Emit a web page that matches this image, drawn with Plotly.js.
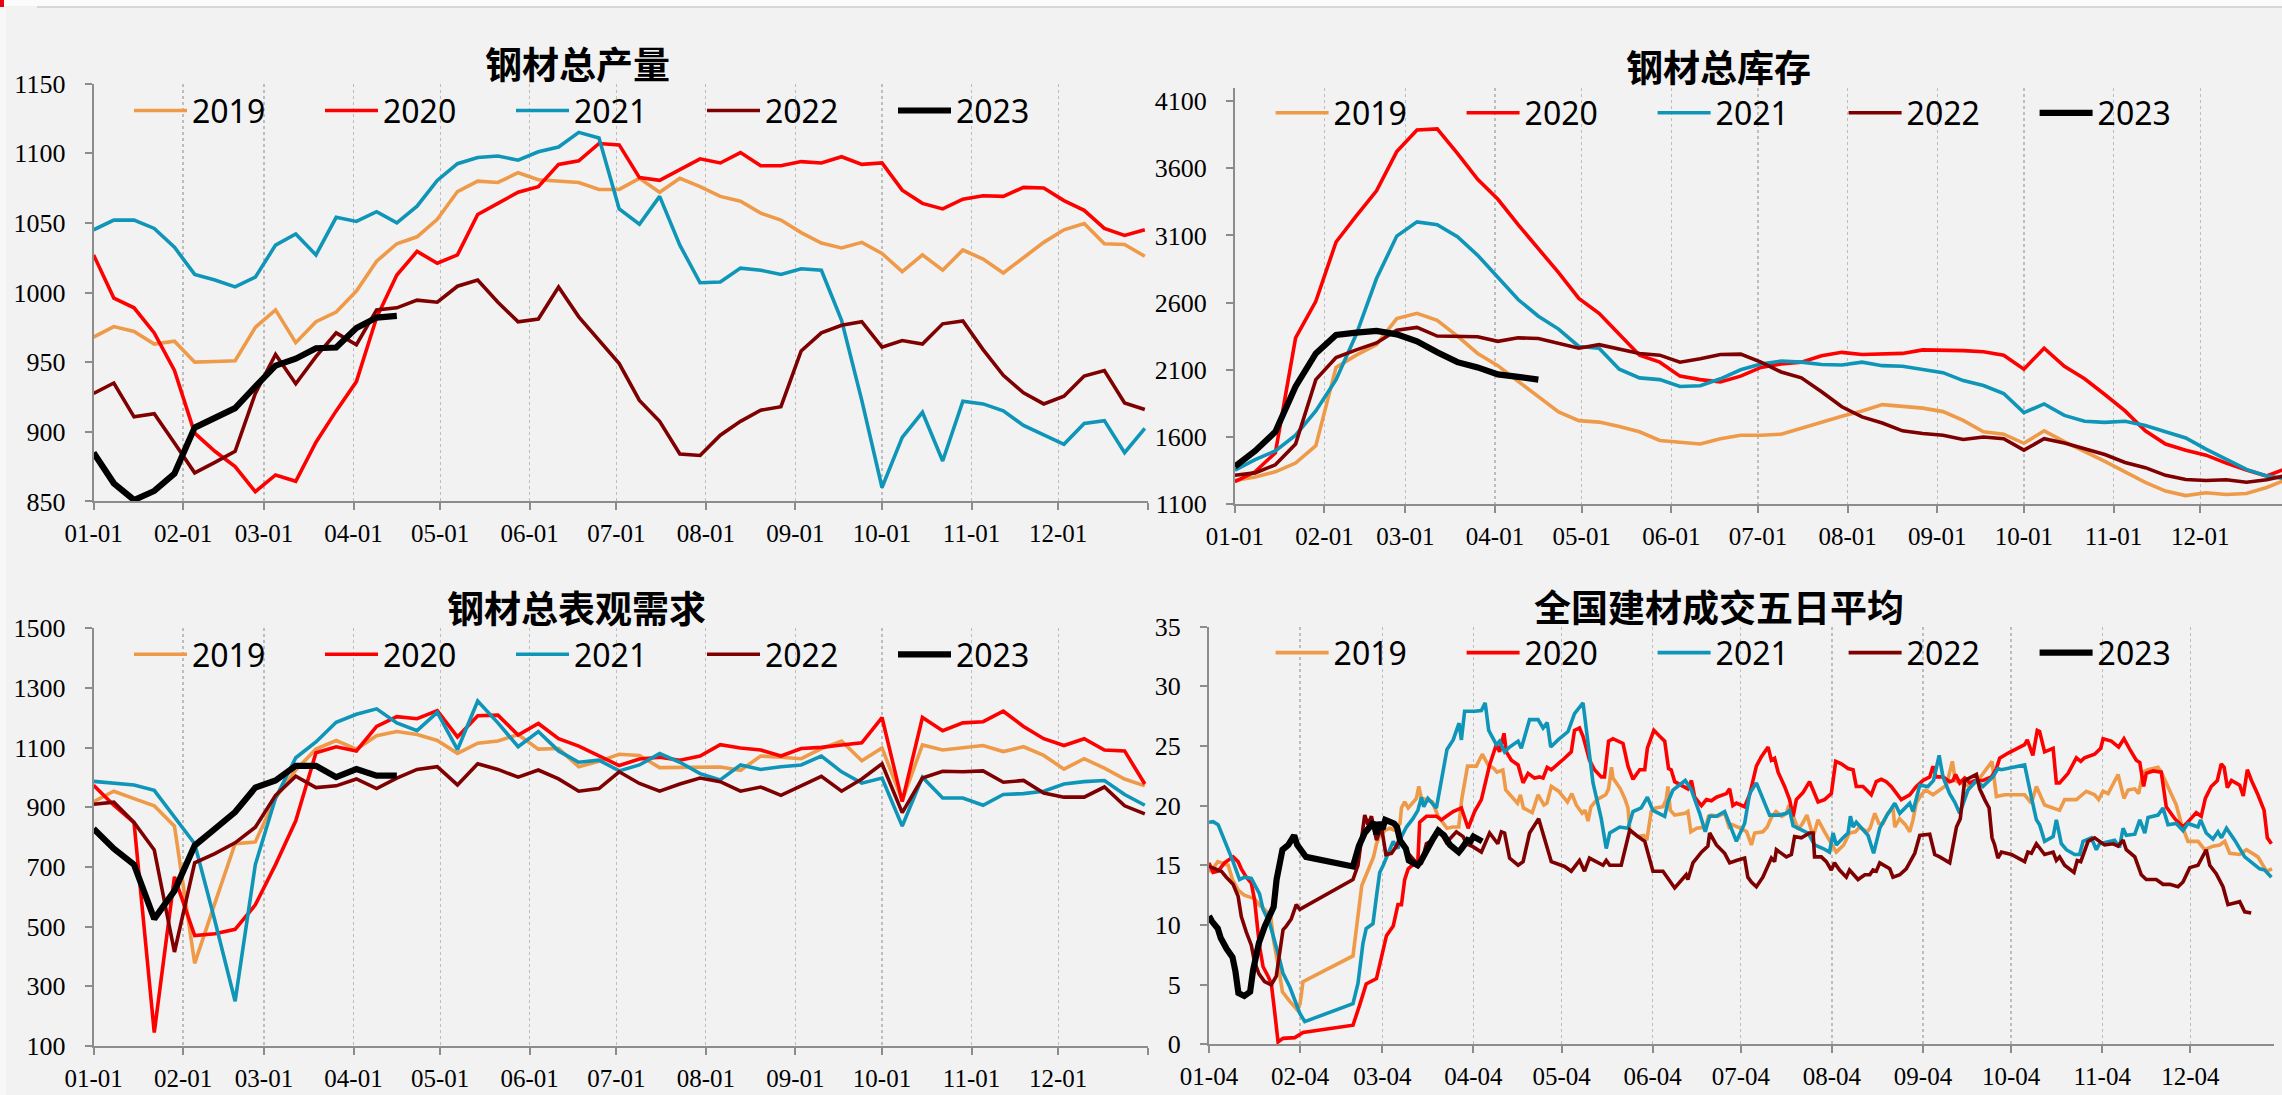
<!DOCTYPE html>
<html><head><meta charset="utf-8">
<script src="https://cdn.plot.ly/plotly-3.0.1.min.js"></script>
<style>html,body{margin:0;padding:0;background:#f2f2f2;}#chart{width:2282px;height:1095px;}</style>
</head><body><div id="chart"></div>
<script>
// ---------- DATA ----------
const years = ['2019','2020','2021','2022','2023'];
const monthStartDays = [0,31,59,90,120,151,181,212,243,273,304,334,365];
const monthLabels01 = ['01-01','02-01','03-01','04-01','05-01','06-01','07-01','08-01','09-01','10-01','11-01','12-01',''];
const monthStartDays04 = [3,34,62,93,123,154,184,215,246,276,307,337];
const monthLabels04 = ['01-04','02-04','03-04','04-04','05-04','06-04','07-04','08-04','09-04','10-04','11-04','12-04'];

// 钢材总产量 (weekly)
const prod2019 = [968,975.5,972,963,965,950,950.5,951,975,987.5,964,979,986,1001,1022.5,1035,1040,1052.5,1072.5,1080,1079,1086,1081,1080,1079,1074,1074,1082,1072,1082,1076,1069,1065.5,1057,1052,1043,1035.5,1032,1036,1028,1015,1027,1016,1030.5,1024,1014,1025,1036,1045,1049.5,1035,1034.5,1026];
const prod2020 = [1027,996,989,971,944,899,886,875,857,869,864.5,892.5,915,936,982,1012.5,1029.5,1021,1027,1056,1064,1072,1076,1092,1094.5,1107,1106,1082.5,1080.5,1088,1096,1093,1100.5,1091,1091,1094,1093,1097.5,1092,1093,1073.5,1064,1060,1067,1069.5,1069,1075.5,1075,1066,1059,1046,1041,1045];
const prod2021 = [1045,1052,1052,1046,1032.5,1013,1009,1004,1011,1034,1042,1027,1054,1051,1058,1050,1062,1080.5,1092.5,1097,1098,1095,1101,1104.5,1115,1111,1060,1049,1069,1034,1007,1007.5,1017.5,1016,1013,1017,1016,980,922.5,860,896,914,879,922,920,915,904.5,897.5,891,906,908,885,902.5];
const prod2022 = [927.5,935,910.75,913,892,870.5,878,886,927.5,955.5,934.5,954,971,962.5,987.5,989,994.5,993,1004.5,1009,993,979,981,1004,982.5,966,949,922.5,907.5,884,883,897.5,907.5,915.5,918,958,971,976.5,979,960.75,965.5,963,977.5,979.5,959,940.5,928,920,925.5,940,944,920.75,916];
const prod2023 = [885,863,851,857.5,870,903,910,917,932.5,947.5,952.5,960,960.5,974.5,982,983.25];

// 钢材总库存 (weekly)
const inv2019 = [1276,1302,1341,1406,1535,2118,2209,2287,2481,2520,2468,2351,2222,2131,2014,1898,1787,1722,1711,1678,1639,1574,1561,1548,1587,1613,1613,1621,1665,1711,1755,1794,1841,1828,1815,1789,1724,1639,1621,1553,1646,1566,1496,1419,1341,1263,1198,1164,1185,1172,1180,1224,1284];
const inv2020 = [1268,1341,1483,2338,2610,3051,3245,3432,3724,3885,3893,3711,3517,3369,3180,2999,2823,2631,2520,2364,2209,2157,2053,2027,2009,2053,2118,2144,2157,2204,2230,2214,2217,2222,2248,2248,2243,2235,2209,2105,2261,2126,2033,1916,1794,1646,1548,1502,1465,1406,1354,1310,1367];
const inv2021 = [1354,1432,1496,1613,1794,2027,2364,2779,3095,3201,3180,3090,2952,2792,2623,2499,2403,2274,2261,2105,2040,2027,1976,1981,2033,2100,2144,2165,2157,2139,2136,2157,2131,2126,2105,2079,2020,1983,1924,1781,1846,1761,1717,1709,1717,1686,1639,1593,1510,1432,1359,1310,1289];
const inv2022 = [1315,1333,1393,1548,2027,2191,2248,2300,2395,2416,2351,2346,2346,2312,2338,2333,2300,2261,2287,2253,2222,2209,2157,2183,2214,2217,2157,2084,2040,1937,1825,1750,1704,1646,1626,1613,1582,1600,1587,1502,1587,1556,1510,1470,1411,1372,1315,1284,1276,1282,1263,1282,1315];
const inv2023 = [1380,1496,1639,1976,2222,2359,2377,2390,2364,2312,2230,2157,2118,2066,2048,2027];

// 钢材总表观需求 (weekly)
const dem2019 = [919,954,929,905,837,377,579,778,784,931,1025,1095,1124,1095,1140,1154,1144,1124,1081,1115,1122,1144,1095,1097,1036,1054,1078,1074,1033,1034,1034,1035,1024,1072,1068,1063,1097,1122,1056,1099,923,1109,1092,1101,1107,1087,1103,1074,1028,1063,1031,995,972];
const dem2020 = [974,907,849,145,667,470,476,491,573,708,855,1083,1103,1089,1171,1204,1197,1224,1136,1207,1209,1142,1181,1130,1105,1072,1040,1062,1068,1058,1072,1110,1099,1092,1072,1097,1101,1109,1116,1201,919,1201,1157,1183,1187,1222,1171,1130,1107,1130,1092,1089,978];
const dem2021 = [987,982,975,957,866,778,520,250,708,931,1066,1119,1185,1212,1230,1183,1157,1218,1093,1256,1183,1103,1154,1089,1051,1058,1022,1042,1080,1051,1013,992,1042,1027,1036,1042,1072,1019,981,998,837,1001,931,931,907,943,946,954,978,986,990,943,907];
const dem2022 = [910,917,849,757,415,714,745,781,833,940,1004,966,972,995,963,998,1027,1036,975,1046,1027,1001,1025,995,954,963,1019,980,954,978,998,986,954,968,940,972,1004,954,995,1046,882,998,1021,1019,1022,984,990,948,934,934,968,905,878];
const dem2023 = [828,761,708,526,620,772,828,884,966,990,1039,1039,1001,1028,1006,1006];

// 全国建材成交五日平均 (daily, [day-of-year, value])
const sale2019 = [[3,14.5],[4,14.6],[6,15.3],[7,15.2],[9.5,15.0],[11,13.8],[13,12.9],[15,12.5],[17,12.3],[18.5,12.2],[20,11.7],[22,11.3],[24,10.7],[25,8.7],[27,5.95],[28,4.4],[30.5,3.6],[33,2.9],[34,3.4],[35,5.25],[52,7.4],[53,9.4],[54,11.5],[55,13.3],[57,14.5],[59,15.7],[60,16.8],[61,17.4],[63,17.95],[64.5,18.1],[66,17.95],[68,18.5],[68.5,19.8],[69.6,20.3],[70.8,19.8],[72.4,20.2],[73.6,20.6],[74.4,21.6],[75.3,20.6],[77,20.5],[79,20.3],[81,19.1],[84,18.1],[86,18.2],[88,18.2],[89,20.5],[90,22.1],[91,23.3],[94,23.3],[96,24.3],[98,23.4],[100,23.1],[101,22.8],[103,22.98],[104,21.3],[106,20.8],[108,20.2],[109,20.9],[110,19.8],[113,19.4],[115,20.9],[117,20.05],[118,20.2],[119.5,21.6],[122,21.2],[123.5,20.75],[125,20.3],[126.5,21.0],[128,20.05],[130,19.35],[131,19.6],[132,18.7],[133,19.9],[135,20.5],[138,20.9],[139,21.4],[140,23.2],[140.5,22.3],[143,21.4],[144.5,20.6],[145.6,19.8],[146.2,17.95],[149,17.4],[151,17.5],[152,17.1],[153.5,19.5],[155,19.8],[157.5,19.9],[158.6,20.5],[159.2,21.6],[160,19.6],[161.5,19.2],[165,19.35],[166,19.5],[167,17.8],[169,18.1],[172,18.2],[173,19.1],[174,19.2],[176,19.1],[178.5,19.35],[180,18.2],[181,18.4],[184,18.1],[186,17.8],[187.6,16.7],[188.7,17.7],[191.5,17.8],[193,18.2],[194.4,19.0],[196,19.5],[198,19.1],[199.5,19.35],[200.4,20.05],[202,19.0],[203.5,18.0],[205,18.5],[206.5,19.2],[208.6,17.4],[210.3,18.8],[212.5,17.8],[215,16.8],[216.5,16.1],[219,16.7],[221,17.7],[223,17.8],[224.4,18.2],[227,17.8],[228,18.1],[229.6,19.35],[231,18.5],[232.4,18.5],[234,19.35],[235.8,19.8],[236.4,18.2],[238,18.9],[240,18.4],[241.5,17.8],[242.6,18.8],[243.7,20.2],[245.4,20.9],[247,21.3],[249.4,20.9],[251.7,21.3],[254,21.7],[256,23.7],[257,22.1],[258.5,21.9],[262,21.6],[264.7,22.1],[267.6,23.0],[269.5,23.7],[271,20.75],[273.8,20.9],[280.6,20.9],[282.9,20.2],[284.6,21.6],[287.4,20.05],[292.5,19.6],[294.2,20.5],[298.2,20.5],[301.6,21.2],[304.4,20.9],[305.8,20.5],[307.3,21.2],[309,21.0],[312.4,22.6],[314.4,20.6],[315.8,21.3],[318.1,21.4],[319.4,21.0],[320.9,22.8],[322.6,23.0],[326,23.2],[327.1,22.8],[329.4,21.6],[332.2,20.05],[333.9,18.5],[336.2,17.0],[339.6,17.0],[341.9,16.3],[344.7,16.6],[347,16.7],[348.7,17.0],[350.4,16.0],[353.8,15.9],[356.1,16.3],[360,15.7],[361.7,15.0],[362.9,14.5],[364.8,14.7]];
const sale2020 = [[3,15.2],[4.4,14.4],[6.1,14.5],[8.3,15.2],[11.2,15.7],[12.9,15.3],[14,14.7],[15.7,14.0],[17.4,13.5],[18.5,12.1],[20.2,8.2],[21.4,6.5],[23.1,5.7],[24.2,5.1],[25.4,2.6],[26.5,0.2],[28.2,0.5],[32.2,0.56],[35,1.0],[52,1.6],[54.3,3.3],[56.5,5.05],[60,5.5],[61.7,7.3],[63.4,9.1],[65.7,9.9],[67.3,11.7],[68.5,11.7],[69.6,13.8],[70.8,14.7],[72.4,15.0],[74.1,15.4],[74.7,18.6],[77,19.1],[80.4,19.1],[82.1,18.8],[83.8,19.1],[86.1,19.5],[88.9,19.8],[91.2,18.1],[93.4,19.5],[95.7,20.5],[98.5,23.4],[100.8,25.1],[101.9,24.5],[103.4,26.05],[104.2,24.5],[105.9,23.8],[108.2,23.4],[109.9,21.9],[111.6,22.7],[113.8,22.3],[115.5,22.4],[116.7,22.3],[118.1,23.2],[119.5,23.0],[124,23.96],[126.3,24.5],[127.4,26.3],[129.1,26.5],[130.3,25.8],[132.5,23.8],[134.2,23.0],[136.5,22.4],[137.6,22.4],[139,25.4],[140.5,25.6],[143.9,25.2],[145.6,23.3],[147.3,22.2],[149.6,23.0],[151.3,23.0],[152.2,24.8],[154.4,26.3],[156.4,25.8],[158.1,25.4],[159.4,23.1],[160.3,23.0],[161.5,22.0],[163.7,21.7],[166,21.4],[167.2,22.1],[168.3,20.7],[170.6,20.0],[172.3,20.5],[174,20.4],[175.7,20.7],[179.1,21.0],[180.2,21.4],[181.3,20.0],[182.5,20.2],[185.3,19.9],[187,20.9],[189.3,23.3],[191,24.1],[193.3,24.9],[194.4,23.8],[195.5,23.96],[196.7,22.8],[198.9,21.6],[200.6,20.5],[201.8,19.1],[202.9,20.5],[205.2,21.1],[207.4,22.0],[208.6,21.3],[210.3,20.3],[212.5,20.5],[214.8,21.0],[216.3,23.7],[218.2,23.5],[220.5,23.1],[222.2,23.0],[223.3,21.6],[225.6,21.6],[228.4,20.9],[230.1,22.0],[231.8,22.2],[233.5,22.0],[235.2,21.6],[238.6,20.5],[241.5,20.9],[243.7,21.6],[246,22.1],[248.3,22.4],[249.4,23.3],[250.5,22.4],[252.8,22.4],[255.1,22.0],[256.2,22.1],[257.1,22.6],[258.5,21.9],[260.2,22.3],[261.9,21.9],[263.6,22.1],[266.4,22.1],[269.3,22.4],[271,23.1],[272.1,23.96],[275,24.4],[278.3,24.8],[280.6,25.1],[281.5,25.5],[283.4,24.2],[284.9,26.3],[285.7,26.2],[287.4,24.5],[290.3,24.8],[291.4,21.9],[292.5,21.9],[295.4,22.7],[298.2,24.0],[299.7,23.7],[301,24.0],[304.4,24.3],[306.5,24.8],[307.3,25.6],[310.1,25.4],[312.6,24.9],[314.4,25.6],[316.4,24.7],[318.6,23.8],[319.8,23.6],[321.1,21.6],[322,22.7],[324.3,22.9],[327.1,22.8],[328.8,19.9],[331.7,18.9],[334.5,18.2],[336.8,18.8],[339,19.4],[340.7,19.1],[342.1,20.6],[344.1,21.6],[346.2,22.1],[347.5,23.5],[348.5,23.2],[349.6,21.5],[351,22.1],[353.8,21.7],[355,20.8],[356.4,23.0],[357.8,22.1],[360,20.9],[362.1,19.6],[363.2,17.3],[364.6,16.8]];
const sale2021 = [[3,18.6],[4.4,18.65],[6.1,18.4],[8.9,16.8],[11.2,15.3],[13.4,13.8],[15.1,14.0],[17.4,13.9],[20.2,12.6],[21.4,11.3],[23.7,10.1],[26.5,7.6],[28.2,5.95],[30.5,4.8],[32.2,3.7],[33.9,2.6],[35.6,1.9],[52,3.4],[53.7,5.1],[55.4,8.46],[56.5,9.7],[58.8,10.1],[60,12.4],[61.1,14.4],[62.3,15.0],[64,16.0],[65.7,17.0],[67.3,16.4],[68.5,17.4],[70.2,18.2],[72.4,18.9],[74.1,19.6],[75.3,20.7],[76.1,19.9],[77.5,20.6],[80.4,19.8],[81.5,21.3],[82.6,22.8],[84,24.7],[86.1,25.5],[88.1,26.9],[88.9,25.5],[90,27.9],[93.4,27.9],[95.7,27.95],[97,28.6],[98.2,26.3],[100.8,25.1],[101.9,25.4],[103.6,24.5],[105.3,24.9],[108.2,25.4],[109.3,24.8],[112.1,27.2],[115,27.2],[116.7,26.5],[118.1,26.95],[119.3,24.9],[121.8,25.5],[125.2,26.2],[127.4,27.7],[130.3,28.6],[132,25.4],[133.7,21.9],[136.5,18.9],[138.2,16.4],[139.4,17.7],[142.8,18.2],[145.6,18.1],[147.3,19.5],[150.1,19.8],[152.2,20.7],[154.1,19.6],[158.1,19.1],[159.2,20.3],[160.9,21.3],[165.1,22.1],[167.2,21.3],[170,19.35],[171.9,17.8],[173.4,19.1],[175.7,19.1],[178.5,19.5],[180.8,17.95],[182.5,17.0],[185.3,18.5],[187,21.0],[189.3,21.9],[191.5,20.5],[193.8,19.2],[197.2,19.2],[199.5,19.35],[200.6,19.6],[201.8,18.3],[206.9,17.7],[209.1,16.7],[212,16.4],[214.2,16.1],[215.4,17.7],[216.5,16.7],[218.8,17.3],[220.5,17.7],[221.3,19.1],[222.2,18.2],[223.3,18.6],[227.3,17.5],[229.2,16.0],[231.3,18.1],[233.5,19.1],[236.4,20.2],[238.1,19.35],[241.5,20.2],[242.6,19.5],[244.9,21.7],[247.7,21.6],[249.6,22.1],[251.5,24.2],[252.8,22.4],[255.1,21.0],[256.8,20.3],[258.5,19.35],[259.6,20.05],[261.3,21.3],[264.2,22.1],[266.4,21.6],[269.8,22.4],[271.5,23.1],[272.7,23.0],[280.6,23.4],[282.9,20.7],[284.6,18.8],[285.7,18.4],[287.4,17.0],[290.3,17.4],[291.4,18.8],[293.1,16.8],[294.8,16.3],[297.6,15.9],[299.3,15.9],[300.5,17.0],[303.3,17.3],[305,16.3],[306.1,16.8],[311.2,17.1],[312.9,16.5],[314.1,18.1],[315.2,17.5],[318.1,17.6],[319.8,18.8],[321.5,17.7],[322.6,19.0],[326,19.2],[327.7,19.8],[329.4,18.4],[332.2,18.5],[334.5,17.9],[336.2,18.5],[339.6,18.2],[340.5,18.8],[342.4,17.7],[344.7,17.2],[346.4,17.8],[347.6,17.3],[349.3,18.1],[352.1,17.1],[355.5,15.7],[358.3,15.2],[360.6,14.7],[362.3,14.6],[364.6,14.0]];
const sale2022 = [[3,14.9],[4.9,14.7],[7.2,14.5],[8.9,14.0],[11.2,13.4],[12.9,12.4],[14,10.7],[15.7,9.4],[17.4,8.3],[18.5,6.9],[20,5.9],[21.9,5.25],[24.2,4.97],[25.9,5.7],[27.1,7.6],[28.2,9.6],[29.3,9.9],[31,10.5],[32.7,11.7],[33.9,11.3],[52,13.8],[53.7,15.0],[56,19.2],[57.1,18.4],[58.3,19.1],[60,17.1],[61.7,18.2],[63.2,15.9],[65.1,16.0],[66.8,16.6],[68,17.3],[69.1,16.6],[70.8,16.0],[73.6,15.2],[75.3,15.2],[77,16.8],[79.2,17.1],[81.5,17.9],[83.8,16.9],[85.5,17.3],[87.2,17.8],[89.5,17.4],[90.6,16.8],[92.8,16.56],[95.7,16.1],[98.5,17.7],[101.3,16.8],[102.5,17.8],[103.6,17.7],[105.3,15.6],[108.2,15.0],[109.9,15.3],[112.1,17.7],[115.2,18.9],[117.8,16.8],[119.5,15.3],[124,14.9],[126.3,14.5],[129.1,15.4],[130.8,14.5],[132.5,15.6],[137.1,15.0],[138.2,15.4],[139.4,15.0],[143.3,15.0],[146.2,17.95],[149,17.4],[151.3,17.0],[154.1,14.5],[157.5,14.5],[161.5,13.1],[165.4,14.2],[166,13.8],[167.7,15.2],[170.6,16.1],[172.8,16.6],[173.4,17.7],[175.7,16.7],[178.5,16.0],[180.2,15.2],[182.5,15.4],[185.3,15.6],[186.4,14.0],[187.6,13.6],[189.3,13.2],[191.5,14.0],[194.4,15.6],[195.5,15.3],[196.1,16.3],[197.8,16.0],[199.5,15.7],[201.2,15.9],[202.3,17.4],[204.6,17.3],[207.4,17.7],[208.6,17.7],[209.1,15.7],[211.4,15.7],[213.1,15.3],[214.8,14.6],[215.9,15.2],[217.6,14.6],[219.9,14.0],[221,14.6],[223.9,13.8],[226.2,14.2],[227.9,14.2],[229,14.6],[230.1,14.5],[231.3,15.2],[233.5,14.9],[234.7,14.7],[235.8,14.0],[238.1,14.2],[240.3,14.7],[243.2,16.0],[244.9,17.5],[248.3,17.6],[250,15.9],[251.7,15.7],[255.1,15.2],[256.2,16.6],[257.4,18.2],[258.7,18.9],[260.2,22.1],[264.2,22.6],[265.3,21.4],[267,20.5],[268.5,19.8],[269.5,17.3],[270.4,16.7],[271.5,15.6],[272.7,16.1],[276.1,15.9],[280.6,15.3],[281.7,16.1],[282.9,16.0],[284.6,16.8],[287.4,15.9],[290.3,16.1],[291.4,15.4],[292.5,15.7],[294.2,15.0],[297.4,14.4],[298.5,15.4],[299.7,15.3],[301,16.1],[302.2,17.0],[304.4,17.3],[307.8,16.7],[310.7,16.8],[312.4,16.6],[314.1,17.1],[315.2,16.3],[318.1,15.7],[320.3,14.2],[322,13.8],[325.4,13.8],[327.7,13.4],[330,13.4],[332.8,13.2],[334.5,13.6],[336.8,14.8],[339.6,15.0],[342.4,16.3],[343.6,15.0],[345.8,14.3],[348.1,13.2],[349.8,11.7],[353.8,11.95],[355.5,11.1],[357.7,11.0]];
const sale2023 = [[3,10.75],[4,10.3],[6,9.7],[7,8.9],[9,8.0],[11,7.3],[12,6.1],[13,4.3],[15,4.05],[17,4.4],[18,6.2],[20,8.5],[22,9.9],[25,11.5],[26,13.8],[28,16.3],[30,16.7],[31,17.1],[32,17.5],[33,16.7],[34,16.4],[36,15.7],[52,14.9],[53,15.9],[54,16.6],[56,17.7],[58,18.4],[59,18.6],[60,17.6],[61,18.6],[62,18.0],[63,18.8],[66,18.5],[67,18.2],[68,17.1],[70,16.4],[71,15.4],[74,15.0],[75,15.3],[77,16.3],[79,17.1],[81,17.9],[83,17.5],[85,16.7],[88,16.1],[89,16.4],[91,17.1],[92,17.0],[93,17.4],[96,17.0]];

// ---------- STYLE ----------
const W = 2282, H = 1095;
const colors = ['#EE9A48','#FF0000','#0E95B8','#7F0000','#000000'];
const widths = [3.6,3.6,3.6,3.6,6.2];
const px = v => v / W, py = v => 1 - v / H;

const weeklyX = arr => arr.map((_, i) => 7 * i);
const panels = [
  {series:[prod2019,prod2020,prod2021,prod2022,prod2023], weekly:true},
  {series:[inv2019,inv2020,inv2021,inv2022,inv2023], weekly:true},
  {series:[dem2019,dem2020,dem2021,dem2022,dem2023], weekly:true},
  {series:[sale2019,sale2020,sale2021,sale2022,sale2023], weekly:false}
];

const traces = [];
panels.forEach((p, k) => {
  const n = k + 1;
  p.series.forEach((s, j) => {
    traces.push({
      x: p.weekly ? weeklyX(s) : s.map(d => d[0]),
      y: p.weekly ? s : s.map(d => d[1]),
      xaxis: 'x' + (n === 1 ? '' : n), yaxis: 'y' + (n === 1 ? '' : n),
      legend: n === 1 ? 'legend' : 'legend' + n,
      name: years[j], type: 'scatter', mode: 'lines',
      line: {color: colors[j], width: widths[j]},
      hoverinfo: 'skip'
    });
  });
});

const axisLine = '#8C8C8C';
function xAx(domain, range, tv, tt, anchor) {
  return {domain, range, anchor, tickmode: 'array', tickvals: tv, ticktext: tt, showgrid: true, gridcolor: '#BDBDBD',
    griddash: 'dot', gridwidth: 1.3, showline: true, linecolor: axisLine, linewidth: 2,
    ticks: 'outside', ticklen: 7, tickwidth: 2, tickcolor: axisLine, zeroline: false,
    tickfont: {family: 'Liberation Serif', size: 25, color: '#000'}, ticklabelstandoff: 2, fixedrange: true};
}
function yAx(domain, range, tick0, dtick, anchor) {
  return {domain, range, anchor, tick0, dtick, tickmode: 'linear', showgrid: false, showline: true,
    linecolor: axisLine, linewidth: 2, ticks: 'outside', ticklen: 7, tickwidth: 2, tickcolor: axisLine,
    zeroline: false, tickfont: {family: 'Liberation Serif', size: 26, color: '#000'},
    ticklabelstandoff: 14, fixedrange: true};
}
function leg(x, y) {
  return {orientation: 'h', x: px(x), y: py(y), xanchor: 'left', yanchor: 'middle',
    bgcolor: 'rgba(0,0,0,0)', borderwidth: 0, entrywidth: 123, itemwidth: 53,
    font: {family: 'Noto Sans', size: 32, color: '#000'}, traceorder: 'normal', itemclick: false, itemdoubleclick: false};
}
function title(text, x, y) {
  return {text: '<b>' + text + '</b>', x: px(x), y: py(y), xref: 'paper', yref: 'paper',
    xanchor: 'center', yanchor: 'middle', showarrow: false,
    font: {family: 'Noto Sans CJK SC', size: 37, color: '#000'}};
}

const p1x = [px(93.6), px(1147.7)], p2x = [px(1234.9), 1];
const p4x = [px(1209), px(2273.5)];
const layout = {
  width: W, height: H, margin: {l: 0, r: 0, t: 0, b: 0},
  paper_bgcolor: '#F2F2F2', plot_bgcolor: '#F2F2F2', showlegend: true,
  xaxis: xAx(p1x, [0, 365], monthStartDays, monthLabels01, 'y'),
  yaxis: yAx([py(501.4), py(83.6)], [850, 1150], 850, 50, 'x'),
  xaxis2: xAx(p2x, [0, 362.3], monthStartDays.slice(0, 12), monthLabels01.slice(0, 12), 'y2'),
  yaxis2: yAx([py(504.2), py(87.6)], [1100, 4200], 1100, 500, 'x2'),
  xaxis3: xAx(p1x, [0, 365], monthStartDays, monthLabels01, 'y3'),
  yaxis3: yAx([py(1046), py(628.3)], [100, 1500], 100, 200, 'x3'),
  xaxis4: xAx(p4x, [3, 365.3], monthStartDays04, monthLabels04, 'y4'),
  yaxis4: yAx([py(1044.3), py(626.5)], [0, 35], 0, 5, 'x4'),
  legend: leg(129, 110.7), legend2: leg(1270.6, 113), legend3: leg(129, 654.5), legend4: leg(1270.6, 652.8),
  annotations: [
    title('钢材总产量', 577, 62.7), title('钢材总库存', 1718, 66),
    title('钢材总表观需求', 576.5, 607.3), title('全国建材成交五日平均', 1719, 605.5)
  ],
  shapes: [
    {type: 'rect', xref: 'paper', yref: 'paper', x0: 0, x1: 1, y0: py(6), y1: 1, fillcolor: '#FBFBFB', line: {width: 0}, layer: 'below'},
    {type: 'line', xref: 'paper', yref: 'paper', x0: px(37), x1: 1, y0: py(7), y1: py(7), line: {color: '#D6D6D6', width: 2}},
    {type: 'rect', xref: 'paper', yref: 'paper', x0: 0, x1: px(4), y0: py(7), y1: 1, fillcolor: '#E60012', line: {width: 0}},
    {type: 'rect', xref: 'paper', yref: 'paper', x0: 0, x1: px(6), y0: 0, y1: py(8), fillcolor: '#F8F8F8', line: {width: 0}, layer: 'below'}
  ]
};

Plotly.newPlot('chart', traces, layout, {displayModeBar: false, staticPlot: true});
</script></body></html>
